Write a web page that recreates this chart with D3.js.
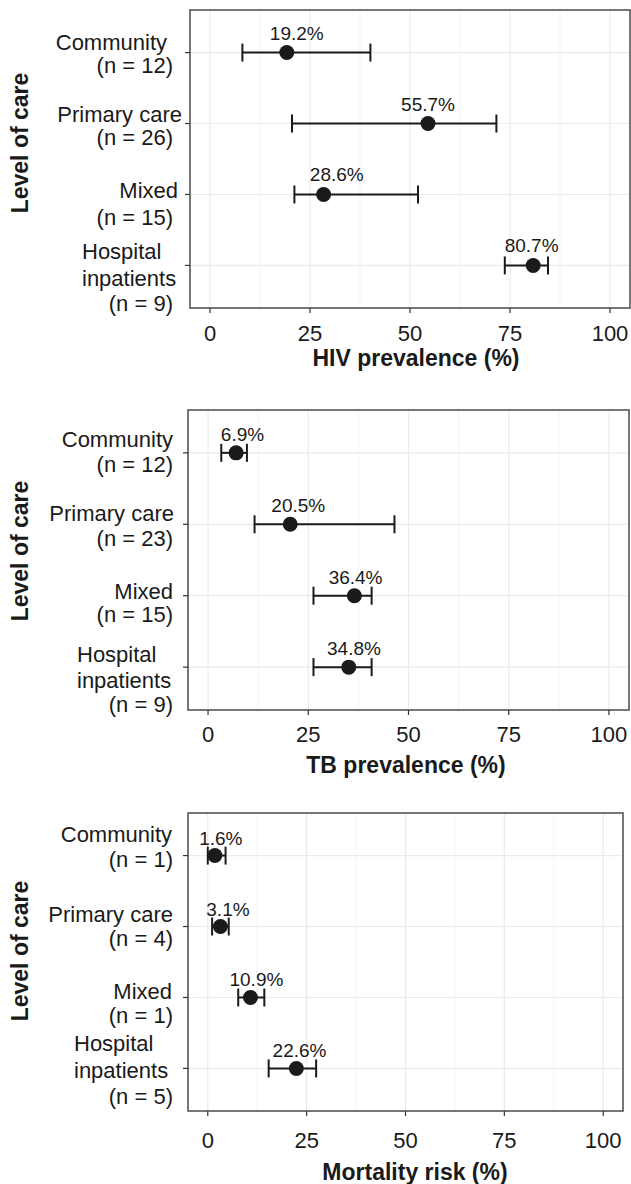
<!DOCTYPE html>
<html lang="en">
<head>
    <meta charset="UTF-8">
    <title>Level of care</title>
    <style>
        body { margin: 0; background: #fff; }
        svg { display: block; font-family: "Liberation Sans", Arial, sans-serif; }
        .tick-label { font-size: 22px; fill: #1a1a1a; text-anchor: middle; }
        .cat-label { font-size: 22px; fill: #1a1a1a; }
        .value-label { font-size: 19px; fill: #1a1a1a; text-anchor: middle; }
        .axis-title { font-size: 23px; font-weight: bold; fill: #1a1a1a; text-anchor: middle; }
    </style>
</head>
<body>
    <svg id="chart" width="631" height="1184"></svg>

    <script src="https://d3js.org/d3.v7.min.js"></script>
    <script>
        // categorias (eixo y)
        const categories = ["Community", "Primary care", "Mixed", "Hospital inpatients"];
        const xTicks = [0, 25, 50, 75, 100];

        // HIV
        const hivN = [12, 26, 15, 9];
        const hivEst = [19.2, 54.5, 28.4, 80.8];
        const hivLo = [8.1, 20.5, 21.1, 73.7];
        const hivHi = [40.1, 71.6, 52.0, 84.5];
        const hivText = ["19.2%", "55.7%", "28.6%", "80.7%"];
        const hivTextAt = [21.7, 54.5, 31.7, 80.4];

        // TB
        const tbN = [12, 23, 15, 9];
        const tbEst = [7.0, 20.5, 36.5, 35.1];
        const tbLo = [3.3, 11.6, 26.3, 26.3];
        const tbHi = [9.7, 46.5, 40.8, 40.8];
        const tbText = ["6.9%", "20.5%", "36.4%", "34.8%"];
        const tbTextAt = [8.6, 22.5, 36.8, 36.4];

        // mortalidade
        const mortN = [1, 4, 1, 5];
        const mortEst = [1.8, 3.2, 10.8, 22.4];
        const mortLo = [0.0, 1.1, 7.7, 15.4];
        const mortHi = [4.5, 5.3, 14.3, 27.4];
        const mortText = ["1.6%", "3.1%", "10.9%", "22.6%"];
        const mortTextAt = [3.3, 5.1, 12.3, 23.2];

        // posicao de cada painel na figura
        const panels = [
            { title: "HIV prevalence (%)", n: hivN, est: hivEst, lo: hivLo, hi: hivHi, text: hivText, textAt: hivTextAt,
              x0: 190, x1: 630, y0: 10, y1: 308, tickY: 341, titleX: 416, titleY: 366, yTitleY: 143, valueDy: -13,
              catEnd: [167, 182, 178, 82], lines: [[-3, 20], [-2, 21], [4, 31], [-6, 21, 46]] },
            { title: "TB prevalence (%)", n: tbN, est: tbEst, lo: tbLo, hi: tbHi, text: tbText, textAt: tbTextAt,
              x0: 188, x1: 629, y0: 410, y1: 710, tickY: 742, titleX: 406, titleY: 773, yTitleY: 551, valueDy: -12,
              catEnd: [173, 174, 173, 77], lines: [[-6, 19], [-3, 22], [3, 26], [-5, 21, 45]] },
            { title: "Mortality risk (%)", n: mortN, est: mortEst, lo: mortLo, hi: mortHi, text: mortText, textAt: mortTextAt,
              x0: 188, x1: 623, y0: 813, y1: 1111, tickY: 1148, titleX: 415, titleY: 1180, yTitleY: 951, valueDy: -11,
              catEnd: [172, 173, 172, 74], lines: [[-14, 11], [-5, 19], [2, 26], [-17, 10, 36]] }
        ];

        const svg = d3.select("#chart");
        const ink = "#1a1a1a";

        function drawPanel(p) {
            const g = svg.append("g");

            const x = d3.scaleLinear().domain([-5, 105]).range([p.x0, p.x1]);
            const y = d3.scalePoint().domain(categories).range([p.y0, p.y1]).padding(0.6);

            // grade menor e maior
            const minor = [12.5, 37.5, 62.5, 87.5];
            g.selectAll(".minor").data(minor).enter().append("line")
                .attr("x1", d => x(d)).attr("x2", d => x(d))
                .attr("y1", p.y0).attr("y2", p.y1)
                .attr("stroke", "#f3f3f3").attr("stroke-width", 1);
            g.selectAll(".major").data(xTicks).enter().append("line")
                .attr("x1", d => x(d)).attr("x2", d => x(d))
                .attr("y1", p.y0).attr("y2", p.y1)
                .attr("stroke", "#ebebeb").attr("stroke-width", 1.2);
            g.selectAll(".hgrid").data(categories).enter().append("line")
                .attr("x1", p.x0).attr("x2", p.x1)
                .attr("y1", d => y(d)).attr("y2", d => y(d))
                .attr("stroke", "#ebebeb").attr("stroke-width", 1.2);

            // barras de erro
            const rows = categories.map((c, i) => ({ c, i }));
            const cap = 9;
            rows.forEach(r => {
                const yy = y(r.c);
                g.append("line")
                    .attr("x1", x(p.lo[r.i])).attr("x2", x(p.hi[r.i]))
                    .attr("y1", yy).attr("y2", yy)
                    .attr("stroke", ink).attr("stroke-width", 2);
                [p.lo[r.i], p.hi[r.i]].forEach(v => {
                    g.append("line")
                        .attr("x1", x(v)).attr("x2", x(v))
                        .attr("y1", yy - cap).attr("y2", yy + cap)
                        .attr("stroke", ink).attr("stroke-width", 2);
                });
                g.append("circle")
                    .attr("cx", x(p.est[r.i])).attr("cy", yy).attr("r", 7.5)
                    .attr("fill", ink);
                g.append("text")
                    .attr("class", "value-label")
                    .attr("x", x(p.textAt[r.i]))
                    .attr("y", yy + p.valueDy)
                    .text(p.text[r.i]);
            });

            // moldura
            g.append("rect")
                .attr("x", p.x0).attr("y", p.y0)
                .attr("width", p.x1 - p.x0).attr("height", p.y1 - p.y0)
                .attr("fill", "none").attr("stroke", "#555").attr("stroke-width", 1.6);

            // eixo x
            xTicks.forEach(t => {
                g.append("line")
                    .attr("x1", x(t)).attr("x2", x(t))
                    .attr("y1", p.y1).attr("y2", p.y1 + 5)
                    .attr("stroke", "#333").attr("stroke-width", 1.2);
                g.append("text")
                    .attr("class", "tick-label")
                    .attr("x", x(t)).attr("y", p.tickY)
                    .text(t);
            });
            g.append("text")
                .attr("class", "axis-title")
                .attr("x", p.titleX).attr("y", p.titleY)
                .text(p.title);

            // eixo y (rotulos com n)
            rows.forEach(r => {
                const yy = y(r.c);
                g.append("line")
                    .attr("x1", p.x0 - 5).attr("x2", p.x0)
                    .attr("y1", yy).attr("y2", yy)
                    .attr("stroke", "#333").attr("stroke-width", 1.2);

                const words = r.c === "Hospital inpatients" ? ["Hospital", "inpatients"] : [r.c];
                const dys = p.lines[r.i];
                words.forEach((w, k) => {
                    const hosp = words.length > 1;
                    g.append("text")
                        .attr("class", "cat-label")
                        .attr("x", p.catEnd[r.i])
                        .attr("y", yy + dys[k])
                        .attr("text-anchor", hosp ? "start" : "end")
                        .text(w);
                });
                g.append("text")
                    .attr("class", "cat-label")
                    .attr("x", 173)
                    .attr("y", yy + dys[dys.length - 1])
                    .attr("text-anchor", "end")
                    .text(`(n = ${p.n[r.i]})`);
            });

            g.append("text")
                .attr("class", "axis-title")
                .attr("transform", `translate(28,${p.yTitleY}) rotate(-90)`)
                .text("Level of care");
        }

        panels.forEach(drawPanel);
    </script>
</body>
</html>
